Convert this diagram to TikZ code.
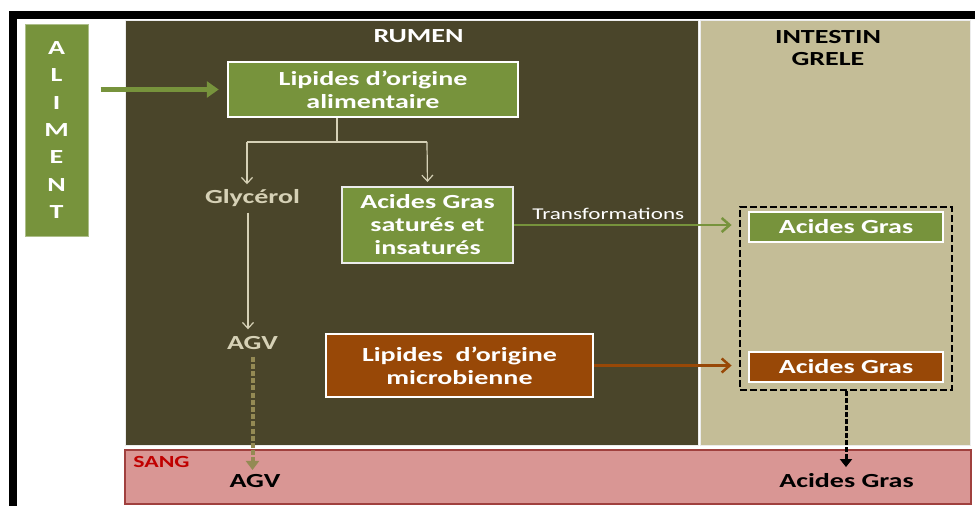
\documentclass[tikz,border=0pt]{standalone}
\usepackage{fontspec}
\newfontfamily\cf[FakeStretch=1.4]{Carlito}
\usetikzlibrary{arrows.meta}
\definecolor{rumen}{HTML}{4A452A}
\definecolor{intest}{HTML}{C4BD97}
\definecolor{vert}{HTML}{77933C}
\definecolor{brun}{HTML}{984807}
\definecolor{rose}{HTML}{D99694}
\definecolor{roseb}{HTML}{A0403E}
\definecolor{sangr}{HTML}{C00000}
\definecolor{beige}{HTML}{D6D1B6}
\definecolor{tanf}{HTML}{948A54}
\begin{document}
\begin{tikzpicture}[x=1pt,y=-1pt,
  txt/.style={font=\cf\bfseries\fontsize{20}{23}\selectfont, align=center, inner sep=0pt},
  gbox/.style={txt, fill=vert, draw=white, line width=2.5pt, text=white},
  bbox/.style={txt, fill=brun, draw=white, line width=2.5pt, text=white},
  panel/.style={draw=white!85!gray, line width=1pt},
  thinarr/.style={draw=beige, line width=1.2pt, -{Straight Barb[length=6pt,width=11pt]}},
  midarr/.style={line width=2.5pt, -{Straight Barb[length=8pt,width=14pt]}},
]
\useasboundingbox (0,0) rectangle (975,506);
\clip (0,0) rectangle (975,506);
\fill[white] (0,0) rectangle (975,506);
% outer frame
\draw[line width=8pt] (13,530) -- (13,15) -- (990,15);
% panels
\fill[rumen] (125,20) rectangle (698,445);
\draw[panel] (125,20) rectangle (698,445);
\fill[intest] (700,20) rectangle (970,445);
\draw[panel] (700,20) rectangle (970,445);
\draw[fill=rose, draw=roseb, line width=2pt] (125,450) rectangle (971,504);

% titles
\node[txt, text=white, anchor=base] (rumentitle) at (418.5,42.5) {RUMEN};
\node[txt, text=black, anchor=base] (intitle) at (828,43.3) {INTESTIN};
\node[txt, text=black, anchor=base] (greltitle) at (828,65) {GRELE};

% aliment
\node[txt, fill=vert, draw=vert!60!white, line width=1pt, text=white,
      minimum width=63pt, minimum height=212pt,
      font=\cf\bfseries\fontsize{20}{27.3}\selectfont] (aliment) at (56.5,130)
      {A\\L\\I\\M\\E\\N\\T};

% main boxes
\node[gbox, minimum width=290pt, minimum height=55pt] (lipali) at (373,89.5)
  {Lipides d’origine\\alimentaire};
\node[gbox, draw=white!85!gray, line width=2pt, minimum width=171pt, minimum height=76pt] (ags) at (427.5,225)
  {Acides Gras\\saturés et\\insaturés};
\node[bbox, minimum width=267pt, minimum height=63pt] (lipmic) at (459.5,365.5)
  {Lipides\ \ d’origine\\microbienne};

\node[txt, text=beige, anchor=base] (glyc) at (252.5,203.5) {Glycérol};
\node[txt, text=beige, anchor=base] (agv) at (252.5,349.3) {AGV};

% intestine
\node[draw=black, dashed, dash pattern=on 7pt off 3pt, line width=2.8pt,
      minimum width=212pt, minimum height=183pt, inner sep=0pt] (dbox) at (846,298.5) {};
\node[gbox, line width=1.5pt, minimum width=194pt, minimum height=30pt] (agg) at (846,227) {Acides Gras};
\node[bbox, line width=1.5pt, minimum width=194pt, minimum height=30pt] (agb) at (846,367) {Acides Gras};

% sang
\node[txt, text=sangr, anchor=base, font=\cf\bfseries\fontsize{17}{20}\selectfont] (sang) at (161.5,467.3) {SANG};
\node[txt, text=black, anchor=base] (agvs) at (255,487.3) {AGV};
\node[txt, text=black, anchor=base] (ags2) at (846.5,487.3) {Acides Gras};

% aliment arrow
\draw[draw=vert, line width=4.5pt, shorten <=12pt, shorten >=8pt,
      -{Triangle[length=12pt,width=16pt]}] (aliment.east |- lipali.west) -- (lipali.west);

% tree
\coordinate (tc) at (337,142);
\coordinate (tl) at (247,142);
\coordinate (tr) at (427,142);
\draw[draw=beige, line width=1.2pt] (lipali.south -| tc) -- (tc);
\draw[draw=beige, line width=1.2pt] (tl) -- (tr);
\draw[thinarr, shorten >=5pt] (tl) -- (tl |- glyc.north);
\draw[thinarr, shorten >=4pt] (tr) -- (ags.north);
\draw[thinarr, shorten <=9pt, shorten >=20pt] (248,203.5) -- (248,349.3);

% AGV dashed to sang
\draw[draw=tanf, line width=4pt, dash pattern=on 5pt off 2.2pt, shorten <=7pt, shorten >=4pt,
      -{Triangle[length=9pt,width=13pt]}] (agv.south) -- (agv.south |- agvs.north);

% transformations
\draw[midarr, draw=vert, shorten >=7pt] (ags.east) -- (dbox.west |- ags.east)
  node[pos=0.42, above=4pt, font=\cf\fontsize{16.5}{19}\selectfont, text=white, inner sep=0pt] (transf) {Transformations};
\draw[midarr, draw=brun, shorten >=7pt] (lipmic.east) -- (dbox.west |- lipmic.east);

% intestine to blood
\draw[line width=3pt, dash pattern=on 5pt off 2pt, shorten >=6pt,
      -{Triangle[length=8pt,width=12pt]}] (dbox.south) -- (dbox.south |- ags2.north);
\end{tikzpicture}
\end{document}
